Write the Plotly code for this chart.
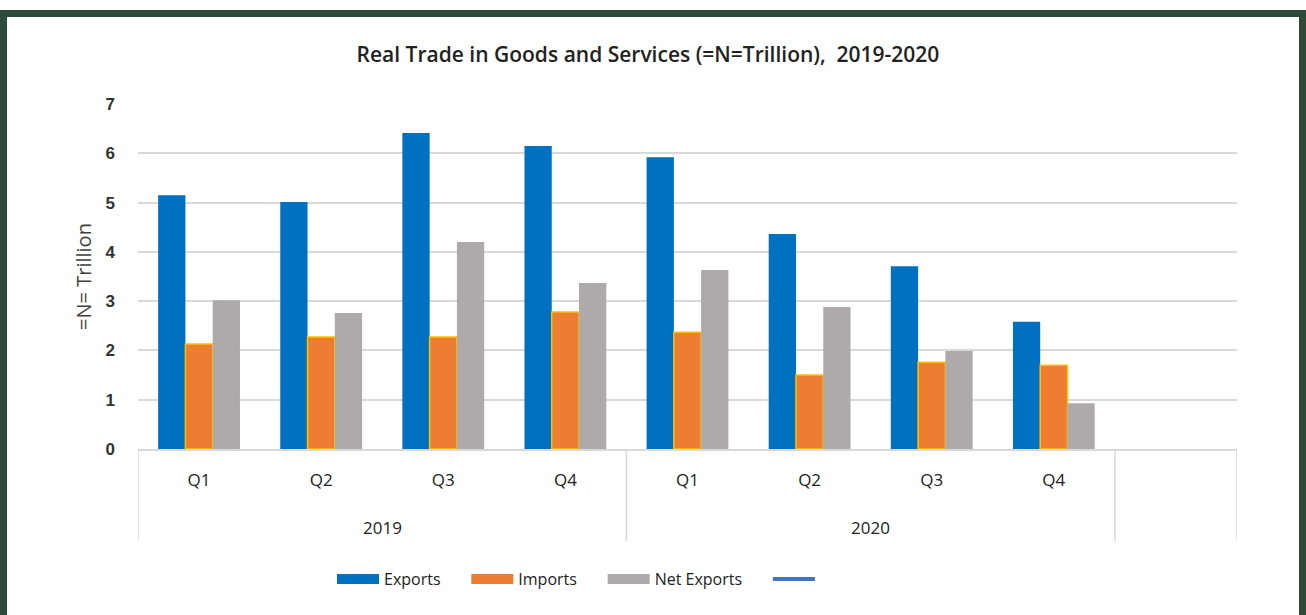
import plotly.graph_objects as go

years = ["2019", "2019", "2019", "2019", "2020", "2020", "2020", "2020"]
quarters = ["Q1", "Q2", "Q3", "Q4", "Q1", "Q2", "Q3", "Q4"]
exports = [5.15, 5.01, 6.41, 6.15, 5.92, 4.36, 3.71, 2.58]
imports = [2.13, 2.27, 2.27, 2.78, 2.37, 1.50, 1.76, 1.70]
net_exports = [3.02, 2.76, 4.20, 3.37, 3.63, 2.88, 1.99, 0.93]
y_ticks = [0, 1, 2, 3, 4, 5, 6, 7]

W, H = 1306, 615
ML, MR, MT, MB = 138, 69, 104, 166
pw = W - ML - MR
ph = H - MT - MB

def px_x(p):
    return (p - ML) / pw

def px_y(p):
    return (H - MB - p) / ph

cats = [f"{y} {q}" for y, q in zip(years, quarters)]
n_slots = len(cats) + 1  # one empty slot at the right, as in the source

SANS = "Open Sans, sans-serif"
ARIAL = "Liberation Sans, Arial, sans-serif"
PAD = "\u00a0" * 5

fig = go.Figure()
series = [("Exports", exports, "#0070C0", None),
          ("Imports", imports, "#ED7D31", "#FFC000"),
          ("Net Exports", net_exports, "#AEAAAA", None)]
for name, vals, col, edge in series:
    fig.add_trace(go.Bar(x=cats, y=vals, name=name, showlegend=False,
                         marker=dict(color=col, line=dict(color=edge or col, width=1.5 if edge else 0))))
# legend entries drawn as wide swatches
for name, vals, col, edge in series:
    fig.add_trace(go.Scatter(x=[None], y=[None], mode="lines", name=name + PAD,
                             line=dict(color=col, width=14)))
fig.add_trace(go.Scatter(x=[None], y=[None], mode="lines", name="", line=dict(color="#4472C4", width=4)))

# year labels and group dividers below the axis
groups = []
for i, y in enumerate(years):
    if not groups or groups[-1][0] != y:
        groups.append([y, i, i])
    else:
        groups[-1][2] = i
div_depth = px_y(541)
for y, a, b in groups:
    fig.add_annotation(x=(a + b) / 2, xref="x", y=px_y(527), yref="paper", text=y, showarrow=False,
                       font=dict(size=17, color="#222", family=SANS), yanchor="middle")
edges = sorted({a - 0.5 for _, a, _ in groups} | {b + 0.5 for _, _, b in groups} | {n_slots - 0.5})
for e in edges:
    fig.add_shape(type="line", xref="x", yref="paper", x0=e, x1=e, y0=0, y1=div_depth,
                  line=dict(color="#D9D9D9", width=1.5))

# dark green frame around the whole chart
fig.add_shape(type="rect", xref="paper", yref="paper",
              x0=px_x(3.5), x1=px_x(W - 3.5), y0=px_y(H + 20), y1=px_y(13.5),
              line=dict(color="#2E4A3A", width=7), fillcolor="rgba(0,0,0,0)", layer="below")

fig.update_layout(
    width=W, height=H,
    margin=dict(l=ML, r=MR, t=MT, b=MB),
    paper_bgcolor="white", plot_bgcolor="white",
    barmode="group", bargap=0.33, bargroupgap=0,
    font=dict(family=SANS, color="#222"),
    title=dict(text="Real Trade in Goods and Services (=N=Trillion),  2019-2020",
               xref="container", x=648 / W, xanchor="center", y=1 - 55 / H, yanchor="middle",
               font=dict(size=21, color="#222", family=SANS, weight=600)),
    showlegend=True,
    legend=dict(orientation="h", x=px_x(332), xanchor="left", y=px_y(579), yanchor="middle",
                font=dict(size=16, color="#222", family=SANS), traceorder="normal", itemwidth=42),
    xaxis=dict(type="category", categoryorder="array", categoryarray=cats, range=[-0.5, n_slots - 0.5],
               tickvals=cats, ticktext=quarters, showgrid=False, showline=True, linecolor="#D9D9D9",
               linewidth=1.5, ticks="", ticklabelstandoff=15, zeroline=False,
               tickfont=dict(size=17, color="#222", family=SANS)),
    yaxis=dict(range=[0, 7], tickvals=y_ticks, showgrid=True, gridcolor="#D9D9D9", gridwidth=1.5,
               zeroline=False, showline=False, ticks="", ticklabelstandoff=22,
               tickfont=dict(size=17, color="#333", family=ARIAL, weight="bold"),
               title=dict(text="=N= Trillion", standoff=8,
                          font=dict(size=20, color="#404040", family=SANS))),
)

fig.write_html("out.html", config={"displayModeBar": False},
               post_script="document.body.style.margin='0';document.body.style.overflow='hidden';")
